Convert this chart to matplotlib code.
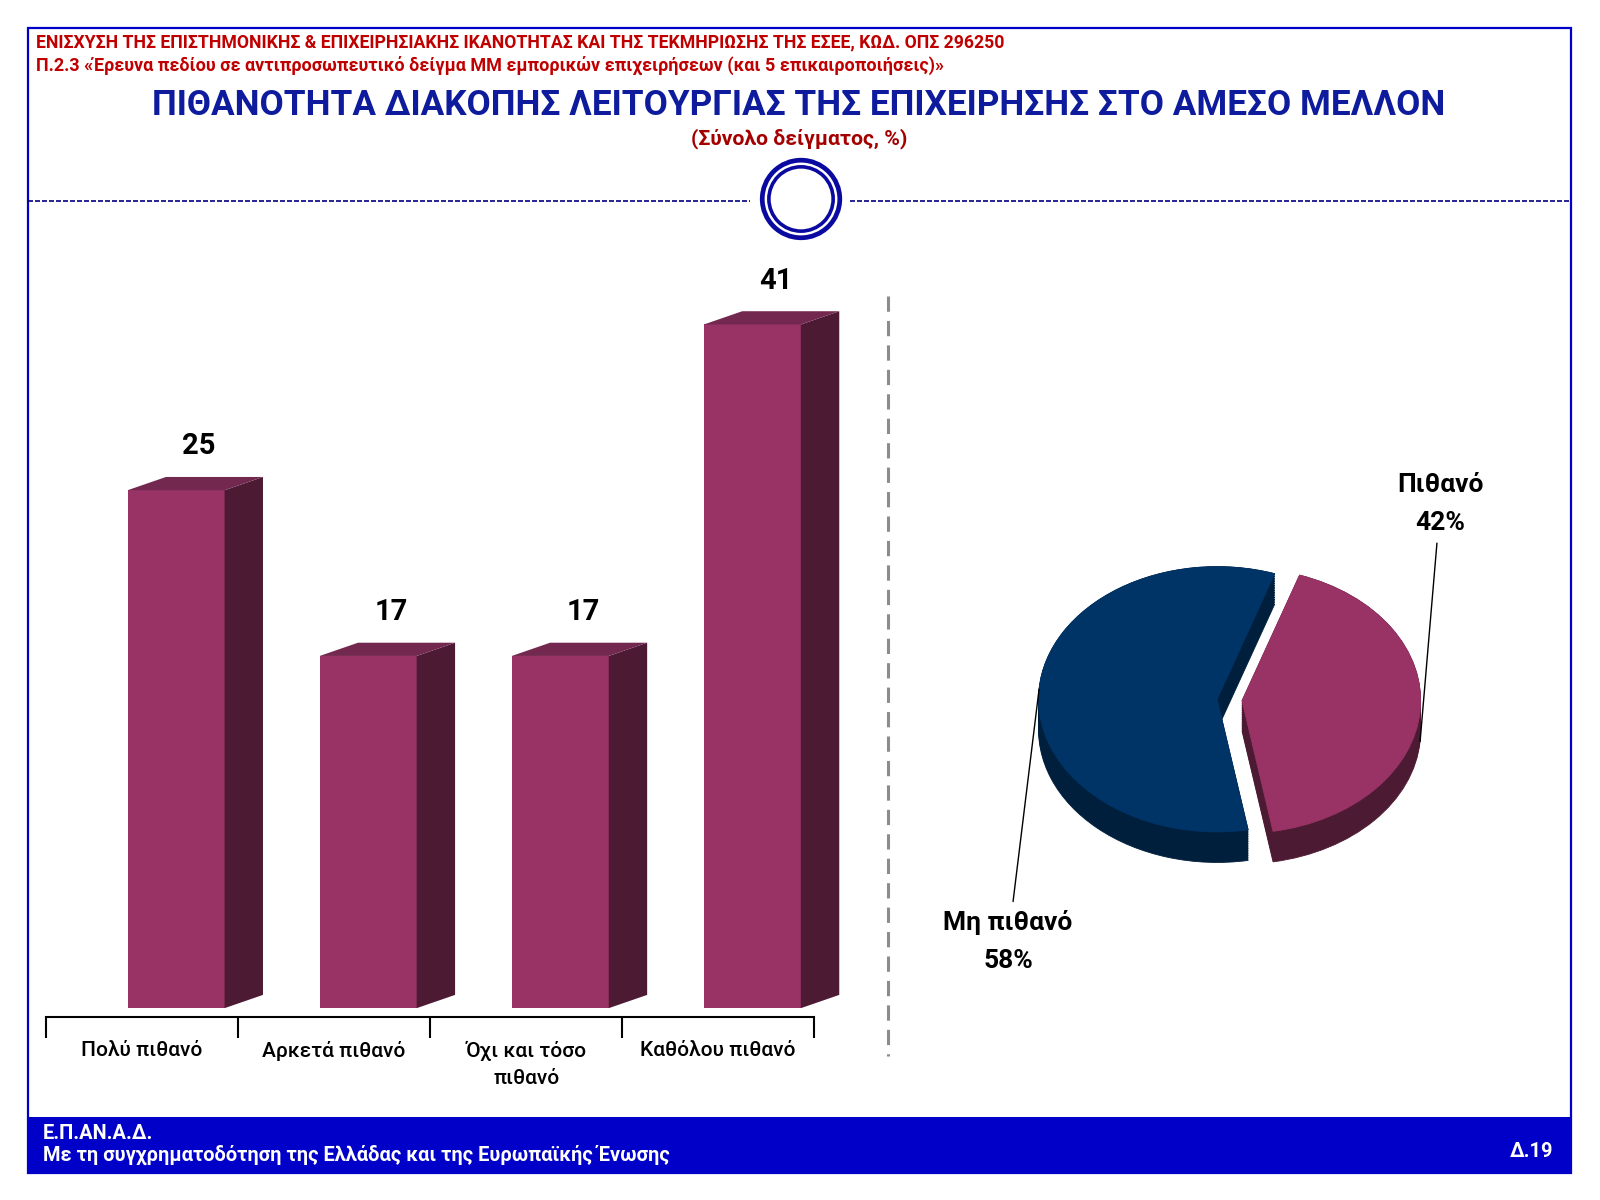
import matplotlib
matplotlib.use("Agg")
import matplotlib.pyplot as plt
import numpy as np
from matplotlib.patches import Rectangle, Polygon, Circle

plt.rcParams['font.family'] = ['Roboto', 'DejaVu Sans']

# Bar chart data
categories = ['Πολύ πιθανό', 'Αρκετά πιθανό', 'Όχι και τόσο\nπιθανό', 'Καθόλου πιθανό']
bar_values = [25, 17, 17, 41]

# Pie chart data
pie_labels = ['Πιθανό', 'Μη πιθανό']
pie_values = [42, 58]

header1 = 'ΕΝΙΣΧΥΣΗ ΤΗΣ ΕΠΙΣΤΗΜΟΝΙΚΗΣ & ΕΠΙΧΕΙΡΗΣΙΑΚΗΣ ΙΚΑΝΟΤΗΤΑΣ ΚΑΙ ΤΗΣ ΤΕΚΜΗΡΙΩΣΗΣ ΤΗΣ ΕΣΕΕ, ΚΩΔ. ΟΠΣ 296250'
header2 = 'Π.2.3 «Έρευνα πεδίου σε αντιπροσωπευτικό δείγμα ΜΜ εμπορικών επιχειρήσεων (και 5 επικαιροποιήσεις)»'
title = 'ΠΙΘΑΝΟΤΗΤΑ ΔΙΑΚΟΠΗΣ ΛΕΙΤΟΥΡΓΙΑΣ ΤΗΣ ΕΠΙΧΕΙΡΗΣΗΣ ΣΤΟ ΑΜΕΣΟ ΜΕΛΛΟΝ'
subtitle = '(Σύνολο δείγματος, %)'
footer1 = 'Ε.Π.ΑΝ.Α.Δ.'
footer2 = 'Με τη συγχρηματοδότηση της Ελλάδας και της Ευρωπαϊκής Ένωσης'
page_no = 'Δ.19'

# colours
pink = '#993366'
pink_top = '#73294f'
pink_side = '#4d1a33'
navy = '#003366'
navy_side = '#001f3d'
frame_blue = '#0000c8'

W, H = 1568, 1176


def fig_rect(l, t, r, b):
    return [l / W, 1 - b / H, (r - l) / W, (b - t) / H]


fig = plt.figure(figsize=(16, 12), dpi=100)

# background / page layout in pixel coords
bg = fig.add_axes([0, 0, 1, 1], zorder=0)
bg.set_xlim(0, W)
bg.set_ylim(H, 0)
bg.axis('off')

bg.add_patch(Rectangle((27, 1095), 1513, 55, facecolor=frame_blue, edgecolor='none'))
bg.add_patch(Rectangle((27, 27), 1513, 1123, facecolor='none', edgecolor=frame_blue, lw=1.6))

bg.text(35, 42, header1, color='#c00000', fontsize=12.7, fontweight='bold', va='center')
bg.text(35, 64, header2, color='#c00000', fontsize=13, fontweight='bold', va='center')
bg.text(783, 103, title, color='#0d1b9c', fontsize=25.3, fontweight='bold', ha='center', va='center')
bg.text(783, 136, subtitle, color='#a50000', fontsize=15.2, fontweight='bold', ha='center', va='center')

bg.plot([27, 735], [197, 197], color='#000080', lw=1.2, ls=(0, (3, 1.2)))
bg.plot([833, 1540], [197, 197], color='#000080', lw=1.2, ls=(0, (3, 1.2)))
bg.add_patch(Circle((785, 195), 38, facecolor='white', edgecolor='#0a0aa0', lw=3.4))
bg.add_patch(Circle((785, 195), 31.5, facecolor='none', edgecolor='#0a0aa0', lw=2.6))

bg.plot([870, 870], [290, 1035], color='#8c8c8c', lw=2.2, ls=(0, (5, 3)))

bg.text(42, 1111, footer1, color='white', fontsize=14.4, fontweight='bold', va='center')
bg.text(42, 1132, footer2, color='white', fontsize=14.4, fontweight='bold', va='center')
bg.text(1522, 1128, page_no, color='white', fontsize=14.4, fontweight='bold', va='center', ha='right')

# ---- 3D-look bar chart ----
ax = fig.add_axes(fig_rect(45, 318, 798, 997), zorder=1)
ymax = 33.0  # value axis is capped, taller bars are cut at the top
px_per_unit = (988 - 318) / ymax
ymin = -(997 - 988) / px_per_unit
ax.set_xlim(-0.5, len(categories) - 0.5)
ax.set_ylim(ymin, ymax)
ax.patch.set_alpha(0)

x_left = -0.075
bar_w = 0.505
dx = 0.2
dy = 13 / px_per_unit

for i, v in enumerate(bar_values):
    h = min(v, ymax)
    x0 = i + x_left
    x1 = x0 + bar_w
    ax.add_patch(Rectangle((x0, 0), bar_w, h, facecolor=pink, edgecolor='none', clip_on=False))
    ax.add_patch(Polygon([(x1, 0), (x1 + dx, dy), (x1 + dx, h + dy), (x1, h)],
                         facecolor=pink_side, edgecolor='none', clip_on=False))
    ax.add_patch(Polygon([(x0, h), (x1, h), (x1 + dx, h + dy), (x0 + dx, h + dy)],
                         facecolor=pink_top, edgecolor='none', clip_on=False))
    ax.annotate(str(v), xy=((x0 + x1 + dx) / 2 + 0.02, h + dy), xytext=(0, 12),
                textcoords='offset points', ha='center', va='bottom',
                fontsize=21, fontweight='bold', color='black', annotation_clip=False)

for s in ['top', 'right', 'left']:
    ax.spines[s].set_visible(False)
ax.spines['bottom'].set_linewidth(1.5)
ax.set_yticks([])
ax.set_xticks(range(len(categories)))
ax.set_xticklabels(categories, fontsize=15, fontweight='medium', linespacing=1.55)
ax.set_xticks(np.arange(-0.5, len(categories)), minor=True)
ax.tick_params(axis='x', which='major', length=0, pad=17)
ax.tick_params(axis='x', which='minor', length=15, width=1.5, direction='out')

# ---- 3D-look pie chart ----
pax = fig.add_axes(fig_rect(925, 426, 1485, 972), zorder=1)
explode = [0.07, 0.07]
start = -80
depth = 0.23


def solid_edges(ws):
    for w in ws:
        w.set_edgecolor(w.get_facecolor())
        w.set_linewidth(0.6)


for k in np.linspace(depth, 0, 14):
    side, _ = pax.pie(pie_values, explode=explode, colors=[pink_side, navy_side], startangle=start,
                      counterclock=True, center=(0, -k), radius=1)
    solid_edges(side)
wedges, _ = pax.pie(pie_values, explode=explode, colors=[pink, navy], startangle=start,
                    counterclock=True, center=(0, 0), radius=1)
solid_edges(wedges)

label_pos = [(1.18, 1.48), (-1.24, -1.82)]
for w, lab, val, ex, pos in zip(wedges, pie_labels, pie_values, explode, label_pos):
    th = np.deg2rad((w.theta1 + w.theta2) / 2)
    drop = depth if np.sin(th) < 0 else 0
    xy = ((1 + ex) * np.cos(th), (1 + ex) * np.sin(th) - drop)
    pax.annotate(f'{lab}\n{val}%', xy=xy, xytext=pos, ha='center', va='center',
                 fontsize=19, fontweight='bold', linespacing=1.75, annotation_clip=False,
                 arrowprops=dict(arrowstyle='-', color='black', lw=1.0, shrinkA=4, shrinkB=0))

pax.set_xlim(-1.6, 1.6)
pax.set_ylim(-2.2, 2.0)
pax.set_aspect('auto')
pax.axis('off')

fig.savefig('out.png', dpi=100)
